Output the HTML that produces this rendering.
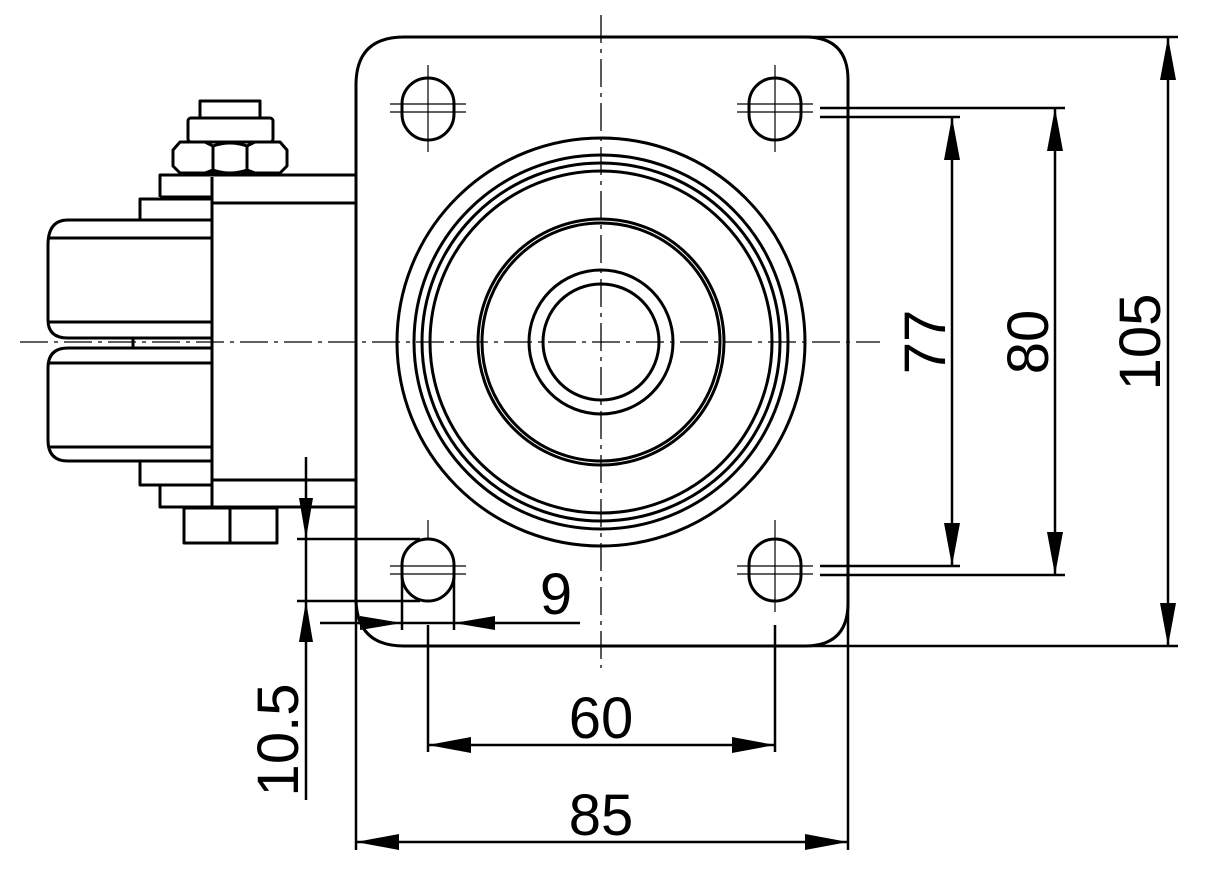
<!DOCTYPE html>
<html><head><meta charset="utf-8"><style>
html,body{margin:0;padding:0;background:#fff;}
svg{display:block}
text{font-family:"Liberation Sans",sans-serif;font-size:58px;fill:#000;font-weight:normal}
</style></head><body>
<svg width="1215" height="879" viewBox="0 0 1215 879" xmlns="http://www.w3.org/2000/svg">
<g fill="none" stroke="#000" stroke-width="3" stroke-linejoin="round">
<!-- plate -->
<path d="M404,37 H805 Q848,37 848,80 V603 Q848,646 805,646 H404 Q356,646 356,598 V85 Q356,37 404,37 Z"/>
<!-- circles -->
<circle cx="601" cy="342" r="204"/>
<circle cx="601" cy="342" r="187"/>
<circle cx="601" cy="342" r="179"/>
<circle cx="601" cy="342" r="171"/>
<circle cx="601" cy="342" r="123"/>
<circle cx="601" cy="342" r="119"/>
<circle cx="601" cy="342" r="72"/>
<circle cx="601" cy="342" r="58"/>
<!-- holes -->
<rect x="402" y="78" width="52" height="62" rx="26" ry="26"/>
<rect x="749" y="78" width="52" height="62" rx="26" ry="26"/>
<rect x="402" y="539" width="52" height="62" rx="26" ry="26"/>
<rect x="749" y="539" width="52" height="62" rx="26" ry="26"/>
<!-- left side assembly -->
<rect x="200" y="101" width="60" height="17"/>
<rect x="188" y="118" width="85" height="24" rx="3"/>
<path d="M173,150 L180,142 H280 L287,150 V166 L280,173 H180 L173,166 Z"/>
<path d="M205,142 L213,146 V170 L205,173 M255,142 L247,146 V170 L255,173 M213,146 Q230,140 247,146 M213,170 Q230,176 247,170"/>
<path d="M160,197 V175 H356 M160,197 H212 M140,220 V199 H212"/>
<path d="M212,177 V507 M212,203 H356"/>
<path d="M212,220 H68 Q48,220 48,245 V320 Q48,338 68,338 H212 M48,238 H212 M48,322 H212"/>
<path d="M212,348 H68 Q48,348 48,368 V440 Q48,461 68,461 H212 M48,363 H212 M48,447 H212"/>
<path d="M133,338 V348"/>
<path d="M140,461 V485 H212 M160,485 V507 H356 M212,480 H356"/>
<rect x="184" y="508" width="93" height="35"/>
<path d="M230,508 V543"/>
</g>
<!-- centerlines -->
<g stroke="#000" stroke-width="1.3" fill="none" stroke-dasharray="28,6,4,6">
<path d="M20,342 H880"/>
<path d="M601,15 V668"/>
</g>
<g stroke="#000" stroke-width="1.2" fill="none">
<path d="M428,65 V152 M390,104 H466 M390,112 H466 M775,65 V152 M737,104 H813 M737,112 H813"/>
<path d="M428,520 V538 M390,566 H466 M390,574 H466 M775,520 V612 M737,566 H813 M737,574 H813"/>
</g>
<!-- dimension lines -->
<g stroke="#000" stroke-width="2.5" fill="none">
<path d="M805,37 H1178 M805,646 H1178 M820,108 H1065 M820,117 H960 M820,566 H960 M820,575 H1065"/>
<path d="M952,117 V566 M1055,108 V575 M1168,37 V646"/>
<path d="M428,625 V752 M775,625 V752 M428,745 H775"/>
<path d="M356,598 V850 M848,603 V850 M356,842 H848"/>
<path d="M320,623 H580 M402,570 V630 M454,570 V630"/>
<path d="M306,457 V800 M297,539 H420 M297,601 H420"/>
</g>
<g fill="#000">
<path d="M952,117 L944,160 L960,160 Z M952,566 L944,523 L960,523 Z"/>
<path d="M1055,108 L1047,151 L1063,151 Z M1055,575 L1047,532 L1063,532 Z"/>
<path d="M1168,37 L1160,80 L1176,80 Z M1168,646 L1160,603 L1176,603 Z"/>
<path d="M428,745 L471,737 L471,753 Z M775,745 L732,737 L732,753 Z"/>
<path d="M356,842 L399,834 L399,850 Z M848,842 L805,834 L805,850 Z"/>
<path d="M402,623 L360,616 L360,630 Z M454,623 L495,616 L495,630 Z"/>
<path d="M306,539 L299,498 L313,498 Z M306,601 L299,642 L313,642 Z"/>
</g>
<text x="601" y="738" text-anchor="middle">60</text>
<text x="601" y="835" text-anchor="middle">85</text>
<text x="556" y="614" text-anchor="middle">9</text>
<text transform="translate(945,342) rotate(-90)" text-anchor="middle">77</text>
<text transform="translate(1048,342) rotate(-90)" text-anchor="middle">80</text>
<text transform="translate(1160,342) rotate(-90)" text-anchor="middle">105</text>
<text transform="translate(298,740) rotate(-90)" text-anchor="middle">10.5</text>
</svg>
</body></html>
